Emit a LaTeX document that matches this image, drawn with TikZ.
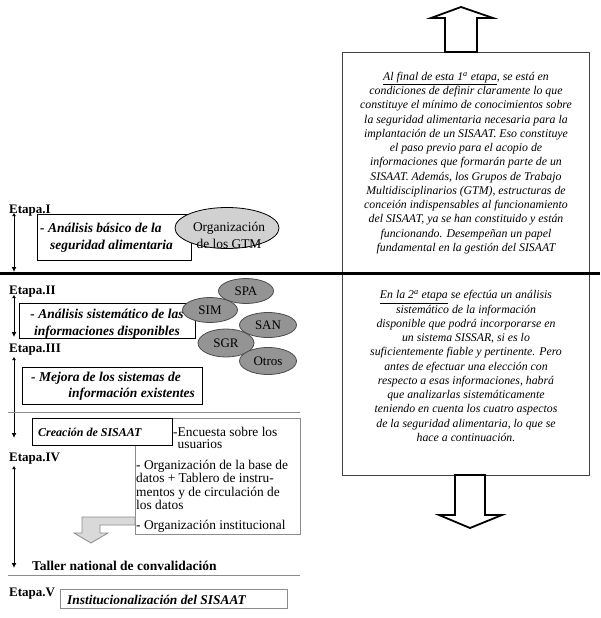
\documentclass[tikz,border=0pt]{standalone}
\usepackage{fontspec}
\setmainfont{Liberation Serif}
\usetikzlibrary{shapes.geometric,arrows.meta}
\begin{document}
\begin{tikzpicture}[x=1pt,y=-1pt,
  lbl/.style={font=\bfseries\fontsize{13}{15}\selectfont, anchor=west, inner sep=0pt},
  bi/.style={font=\bfseries\itshape\fontsize{13.5}{17}\selectfont, inner sep=0pt},
  rg/.style={font=\fontsize{13.4}{13.3}\selectfont, inner sep=0pt},
  stagebox/.style={draw=black, line width=0.9pt, fill=white, inner sep=0pt},
  lightbox/.style={draw=black!45, line width=0.9pt, fill=white, inner sep=0pt},
  notebox/.style={draw=black!75, line width=0.9pt, inner sep=0pt},
  notetext/.style={font=\itshape\fontsize{11.8}{14.25}\selectfont, align=center, inner sep=0pt},
  bigarrow/.style={draw=black, line width=1.8pt, fill=white, line join=miter},
  grayarrow/.style={draw=black!45, line width=0.8pt, fill=black!15},
  ell/.style={ellipse, draw=black!70, line width=0.8pt, fill=black!42, inner sep=0pt, font=\fontsize{13}{15}\selectfont},
  stagearrow/.style={line width=1pt, {Latex[length=3pt,width=4pt]}-{Latex[length=5pt,width=5pt]}},
  sepline/.style={draw=black!45, line width=1pt},
]
\useasboundingbox (0,0) rectangle (600,618);

% right-hand note boxes
\node[notebox, minimum width=247pt, minimum height=221pt] (n1) at (465.5,162.5) {};
\node[notebox, minimum width=247pt, minimum height=202pt] (n2) at (465.5,374) {};
\node[notetext] (n1t) at (466,163) {\underline{Al final de esta 1\textsuperscript{a} etapa}, se está en\\
condiciones de definir claramente lo que\\
constituye el mínimo de conocimientos sobre\\
la seguridad alimentaria necesaria para la\\
implantación de un SISAAT. Eso constituye\\
el paso previo para el acopio de\\
informaciones que formarán parte de un\\
SISAAT. Además, los Grupos de Trabajo\\
Multidisciplinarios (GTM), estructuras de\\
conceión indispensables al funcionamiento\\
del SISAAT, ya se han constituido y están\\
funcionando. Desempeñan un papel\\
fundamental en la gestión del SISAAT};
\node[notetext] (n2t) at (466,366) {\underline{En la 2\textsuperscript{a} etapa} se efectúa un análisis\\
sistemático de la información\\
disponible que podrá incorporarse en\\
un sistema SISSAR, si es lo\\
suficientemente fiable y pertinente. Pero\\
antes de efectuar una elección con\\
respecto a esas informaciones, habrá\\
que analizarlas sistemáticamente\\
teniendo en cuenta los cuatro aspectos\\
de la seguridad alimentaria, lo que se\\
hace a continuación.};

% block arrows
\draw[bigarrow] (445,52) -- (445,18) -- (431,18) -- (461,7) -- (493,18) -- (477,18) -- (477,52) -- cycle;
\draw[bigarrow] (455,475) -- (455,515) -- (439,515) -- (470,528) -- (502,515) -- (485,515) -- (485,475) -- cycle;

% thick separator
\coordinate (tl) at (0,273);
\coordinate (tr) at (600,273);
\draw[line width=3pt] (tl) -- (tr);

% Stage labels
\node[lbl] (e1) at (9,211) {Etapa.I};
\node[lbl] (e2) at (9,292) {Etapa.II};
\node[lbl] (e3) at (9,350) {Etapa.III};
\node[lbl] (e4) at (9,459) {Etapa.IV};
\node[lbl] (e5) at (9,594) {Etapa.V};

% stage arrows
\coordinate (s1a) at (14,213); \coordinate (s1b) at (14,272);
\coordinate (s2a) at (14,295); \coordinate (s2b) at (14,337);
\coordinate (s3a) at (14,357); \coordinate (s3b) at (14,438);
\coordinate (s4a) at (14,466); \coordinate (s4b) at (14,568);
\draw[stagearrow] (s1a) -- (s1b);
\draw[stagearrow] (s2a) -- (s2b);
\draw[stagearrow] (s3a) -- (s3b);
\draw[stagearrow] (s4a) -- (s4b);

% Stage I
\node[stagebox, minimum width=154pt, minimum height=46pt] (b1) at (114,237) {};
\node[bi, align=left, anchor=west] (b1t) at (40,238) {- Análisis básico de la\\\hspace*{10pt}seguridad alimentaria};
\node[ellipse, draw=black, line width=0.8pt, fill=black!18, minimum width=104pt, minimum height=41pt, inner sep=0pt] (gtm) at (227,228) {};
\node[rg, font=\fontsize{13.4}{17}\selectfont, align=center] (gtmt) at (229,235) {Organización\\de los GTM};

% Stage II
\node[stagebox, minimum width=176pt, minimum height=35pt] (b2) at (107,320.5) {};
\node[bi, align=center] (b2t) at (107,324) {- Análisis sistemático de las\\informaciones disponibles};
\node[ell, minimum width=55pt, minimum height=25pt] (spa) at (246,291) {SPA};
\node[ell, minimum width=55pt, minimum height=25pt] (sim) at (210,310) {SIM};
\node[ell, minimum width=57pt, minimum height=25pt] (san) at (268,325) {SAN};
\node[ell, minimum width=56pt, minimum height=28pt] (sgr) at (226,343) {SGR};
\node[ell, minimum width=57pt, minimum height=27pt] (otros) at (268,361) {Otros};

% Stage III
\node[stagebox, minimum width=180pt, minimum height=37pt] (b3) at (112,385.5) {};
\node[bi, anchor=west] (b3a) at (31,378) {- Mejora de los sistemas de};
\node[bi, anchor=east] (b3b) at (195,394) {información existentes};

\coordinate (g1a) at (8,412); \coordinate (g1b) at (300,412);
\draw[sepline] (g1a) -- (g1b);

% Stage IV
\node[lightbox, minimum width=165pt, minimum height=116pt] (b4) at (217.5,476) {};
\node[stagebox, minimum width=140pt, minimum height=27pt] (cre) at (102,431.5) {};
\node[bi, font=\bfseries\itshape\fontsize{12}{14}\selectfont, anchor=west] (cret) at (38,432.5) {Creación de SISAAT};
\node[rg, font=\fontsize{13.4}{12.5}\selectfont, align=left, anchor=west] (enc) at (173,438) {-Encuesta sobre los\\\phantom{-}usuarios};
\node[rg, align=left, anchor=west] (orgb) at (136,485) {- Organización de la base de\\datos + Tablero de instru-\\mentos y de circulación de\\los datos};
\node[rg, anchor=west] (orgi) at (136,526) {- Organización institucional};
\draw[grayarrow] (135,517) -- (82,517) -- (82,533) -- (74,533) -- (91,543) -- (108,533) -- (100,533) -- (100,525) -- (135,525) -- cycle;

\node[font=\bfseries\fontsize{13.5}{15}\selectfont, anchor=west, inner sep=0pt] (taller) at (32,566) {Taller national de convalidación};
\coordinate (g2a) at (8,575); \coordinate (g2b) at (300,575);
\draw[sepline] (g2a) -- (g2b);

% Stage V
\node[lightbox, minimum width=227pt, minimum height=19pt] (b5) at (173.5,598.5) {};
\node[bi, font=\bfseries\itshape\fontsize{13.4}{15}\selectfont, anchor=west] (b5t) at (67,600) {Institucionalización del SISAAT};
\end{tikzpicture}
\end{document}
